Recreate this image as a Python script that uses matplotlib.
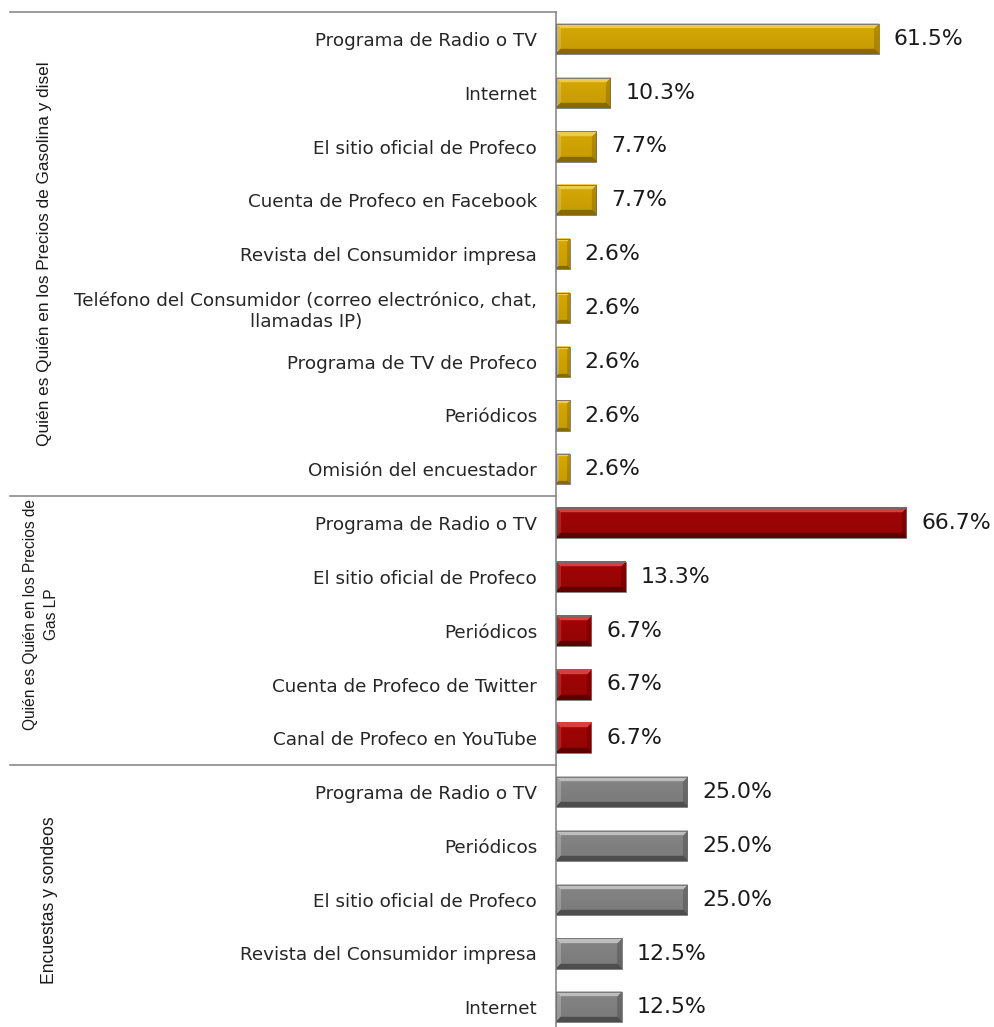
import numpy as np
import matplotlib
matplotlib.use("Agg")
import matplotlib.pyplot as plt
from matplotlib.transforms import blended_transform_factory

# data
gasolina_labels = [
    "Programa de Radio o TV",
    "Internet",
    "El sitio oficial de Profeco",
    "Cuenta de Profeco en Facebook",
    "Revista del Consumidor impresa",
    "Teléfono del Consumidor (correo electrónico, chat,\nllamadas IP)",
    "Programa de TV de Profeco",
    "Periódicos",
    "Omisión del encuestador",
]
gasolina_values = [61.5, 10.3, 7.7, 7.7, 2.6, 2.6, 2.6, 2.6, 2.6]

gaslp_labels = [
    "Programa de Radio o TV",
    "El sitio oficial de Profeco",
    "Periódicos",
    "Cuenta de Profeco de Twitter",
    "Canal de Profeco en YouTube",
]
gaslp_values = [66.7, 13.3, 6.7, 6.7, 6.7]

encuestas_labels = [
    "Programa de Radio o TV",
    "Periódicos",
    "El sitio oficial de Profeco",
    "Revista del Consumidor impresa",
    "Internet",
]
encuestas_values = [25.0, 25.0, 25.0, 12.5, 12.5]

group_names = [
    "Quién es Quién en los Precios de Gasolina y disel",
    "Quién es Quién en los Precios de\nGas LP",
    "Encuestas y sondeos",
]

# base / highlight / shadow colours for each group
palettes = [
    ((0.84, 0.66, 0.02), (0.95, 0.80, 0.30), (0.58, 0.45, 0.00)),
    ((0.63, 0.02, 0.02), (0.85, 0.25, 0.25), (0.40, 0.00, 0.00)),
    ((0.52, 0.52, 0.52), (0.75, 0.75, 0.75), (0.33, 0.33, 0.33)),
]


def bevel_image(w, h, pal, b=5):
    base, light, dark = [np.array(c) for c in pal]
    img = np.zeros((h, w, 3))
    img[:] = base
    yy, xx = np.mgrid[0:h, 0:w]
    d_top = yy
    d_bot = h - 1 - yy
    d_left = xx
    d_right = w - 1 - xx
    dmin = np.minimum(np.minimum(d_top, d_bot), np.minimum(d_left, d_right))
    edge = dmin < b
    img[edge & (d_top == dmin)] = light
    img[edge & (d_left == dmin) & (d_top != dmin)] = 0.5 * (light + base)
    img[edge & (d_right == dmin) & (d_top != dmin)] = 0.5 * (dark + base)
    img[edge & (d_bot == dmin)] = dark
    # soft vertical shading inside
    shade = 1 - 0.08 * (yy / max(h - 1, 1))
    return np.clip(img * shade[..., None], 0, 1)


groups = [
    (gasolina_labels, gasolina_values),
    (gaslp_labels, gaslp_values),
    (encuestas_labels, encuestas_values),
]

fig = plt.figure(figsize=(9.95, 10.27), dpi=100)
fig.patch.set_facecolor("white")
ax = fig.add_axes([556 / 995, 0, 439 / 995, 1015 / 1027])

xmax = 439 / 5.25
row_px = 53.8
ymax = -0.5 + 1015 / row_px
bar_h = 0.56

labels_all = []
pos = 0
bounds = [-0.5]
group_centers = []
for gi, (labs, vals) in enumerate(groups):
    start = pos
    for lab, v in zip(labs, vals):
        w_px = max(int(round(v * 5.25)), 6)
        h_px = int(round(bar_h * row_px))
        img = bevel_image(w_px, h_px, palettes[gi], b=5 if w_px > 14 else 3)
        ax.imshow(img, extent=(0, v, pos + bar_h / 2, pos - bar_h / 2),
                  origin="upper", aspect="auto", interpolation="bilinear", zorder=2)
        ax.barh(pos, v, height=bar_h, color="none", edgecolor="#6e6e6e",
                linewidth=0.6, zorder=3)
        ax.text(v + 15 / 5.25, pos, f"{v:.1f}%", va="center", ha="left",
                fontsize=15.8, family="DejaVu Sans", color="#1a1a1a")
        labels_all.append(lab)
        pos += 1
    bounds.append(pos - 0.5)
    group_centers.append((start + pos - 1) / 2)

ax.set_xlim(0, xmax)
ax.set_ylim(ymax, -0.5)
ax.set_yticks(range(len(labels_all)))
ax.set_yticklabels(labels_all, fontsize=13.2, family="DejaVu Sans", color="#262626")
for t in ax.get_yticklabels():
    t.set_multialignment("center")
ax.tick_params(axis="y", length=0, pad=13.5)
ax.set_xticks([])
for s in ["top", "right", "bottom"]:
    ax.spines[s].set_visible(False)
ax.spines["left"].set_color("#8a8a8a")
ax.spines["left"].set_linewidth(1.2)
ax.patch.set_alpha(0)

trans = blended_transform_factory(ax.transAxes, ax.transData)
for b in bounds[:-1]:
    ax.plot([-546 / 439, 0], [b, b], color="#8a8a8a", lw=1.2,
            transform=trans, clip_on=False)

group_x = [(45 - 556) / 439, (41 - 556) / 439, (50 - 556) / 439]
group_y_shift = [0, -0.3, 0]
group_sizes = [12.4, 11.2, 12.7]
for name, cy, gx, dy, fs in zip(group_names, group_centers, group_x,
                                group_y_shift, group_sizes):
    ax.text(gx, cy + dy, name, rotation=90, ha="center", va="center",
            multialignment="center", fontsize=fs, family="Liberation Sans",
            linespacing=1.5, color="#1a1a1a", transform=trans)

plt.savefig("out.png", dpi=100)
